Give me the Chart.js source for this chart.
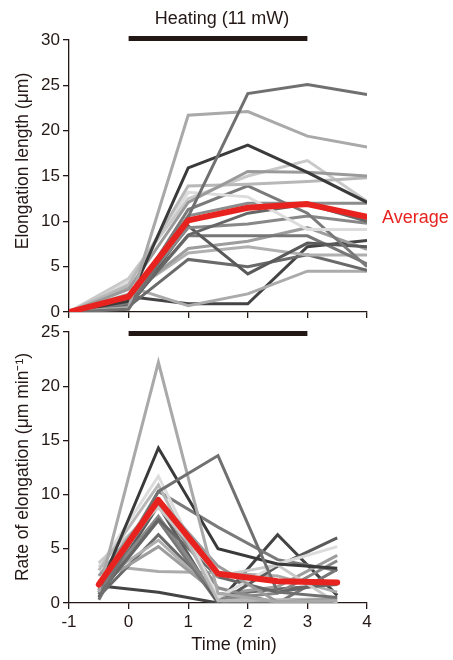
<!DOCTYPE html>
<html><head><meta charset="utf-8">
<script src="https://cdn.jsdelivr.net/npm/chart.js@4.4.1/dist/chart.umd.min.js"></script>
<style>
html,body{margin:0;padding:0;background:#fff;width:453px;height:660px;overflow:hidden}
#c1{position:absolute;left:0;top:0}
#c2{position:absolute;left:0;top:300px}
</style></head><body>
<canvas id="c1" width="453" height="330"></canvas>
<canvas id="c2" width="453" height="360"></canvas>
<script>
// ---------- DATA ----------
const timeLength = [-1, 0, 1, 2, 3, 4];          // min
const timeRate   = [-0.5, 0.5, 1.5, 2.5, 3.5];   // min
const xTicks = [-1, 0, 1, 2, 3, 4];
const lengthTicks = [0, 5, 10, 15, 20, 25, 30];
const rateTicks = [0, 5, 10, 15, 20, 25];
const heatingStart = 0, heatingEnd = 3;
const heatingLabel = "Heating (11 mW)";
const averageLabel = "Average";
const lengthTitle = "Elongation length (μm)";
const rateTitle = "Rate of elongation (μm min⁻¹)";
const timeTitle = "Time (min)";

// elongation length (μm) of individual cells
const length01 = [0, 0.3, 10.5, 24.1, 25.1, 24.0];
const length02 = [0, 0.5, 21.7, 22.1, 19.4, 18.2];
const length03 = [0, 1.2, 15.9, 18.4, 15.4, 12.1];
const length04 = [0, 2.5, 12.1, 15.5, 15.4, 15.0];
const length05 = [0, 3.0, 13.9, 14.1, 14.4, 14.8];
const length06 = [0, 3.7, 12.5, 15.0, 16.7, 12.2];
const length07 = [0, 3.3, 13.2, 12.7, 9.1, 9.1];
const length08 = [0, 1.0, 11.3, 13.9, 10.9, 5.0];
const length09 = [0, 1.5, 10.6, 12.0, 12.0, 12.0];
const length10 = [0, 0.8, 8.5, 10.9, 11.9, 10.0];
const length11 = [0, 1.3, 9.3, 9.7, 10.6, 9.8];
const length12 = [0, 0.5, 9.5, 4.2, 7.6, 7.2];
const length13 = [0, 0.8, 8.4, 8.4, 8.4, 5.3];
const length14 = [0, 1.8, 7.0, 7.8, 9.3, 6.9];
const length15 = [0, 2.0, 6.5, 7.2, 6.3, 6.3];
const length16 = [0, 0.6, 5.8, 5.0, 6.3, 4.6];
const length17 = [0, 2.8, 0.7, 2.0, 4.5, 4.5];
const length18 = [0, 1.7, 0.9, 0.9, 7.2, 7.9];
const lengthAverage = [0, 1.7, 10.1, 11.5, 11.9, 10.5];

// rate of elongation (μm/min) of individual cells
const rate01 = [0.3, 10.3, 13.6, 1.0, 0.5];
const rate02 = [1.0, 22.2, 0.9, 0.1, 0.2];
const rate03 = [1.2, 14.3, 5.0, 3.6, 3.2];
const rate04 = [2.5, 9.6, 3.4, 0.1, 0.4];
const rate05 = [3.0, 10.9, 0.2, 0.3, 0.4];
const rate06 = [3.7, 8.8, 2.5, 3.5, 0.0];
const rate07 = [3.3, 11.7, 0.5, 3.6, 5.2];
const rate08 = [1.0, 10.3, 7.0, 4.0, 3.0];
const rate09 = [1.5, 9.1, 1.4, 0.0, 0.0];
const rate10 = [0.8, 7.7, 2.4, 1.0, 1.9];
const rate11 = [1.3, 8.0, 0.4, 0.9, 3.9];
const rate12 = [0.5, 9.0, 0.0, 3.4, 6.0];
const rate13 = [0.8, 7.6, 0.0, 0.0, 3.1];
const rate14 = [1.8, 5.2, 0.8, 1.5, 4.4];
const rate15 = [2.0, 5.8, 0.7, 0.0, 0.1];
const rate16 = [0.6, 6.3, 0.7, 1.3, 1.7];
const rate17 = [3.5, 2.9, 2.8, 2.5, 1.0];
const rate18 = [1.6, 1.0, 0.0, 6.3, 0.7];
const rateAverage = [1.7, 9.5, 2.7, 2.0, 1.9];

const lengthSeries = [length01,length02,length03,length04,length05,length06,length07,length08,length09,
  length10,length11,length12,length13,length14,length15,length16,length17,length18];
const rateSeries = [rate01,rate02,rate03,rate04,rate05,rate06,rate07,rate08,rate09,
  rate10,rate11,rate12,rate13,rate14,rate15,rate16,rate17,rate18];

// ---------- STYLE ----------
const grays = ['#707070','#a9a9a9','#3a3a3a','#9a9a9a','#b8b8b8','#c9c9c9','#dcdcdc','#7a7a7a','#8c8c8c',
  '#666666','#888888','#5a5a5a','#777777','#9d9d9d','#b0b0b0','#6a6a6a','#ababab','#444444'];
const RED = '#e8231f';
const INK = '#231815';
const FONT = '"Liberation Sans", Arial, Helvetica, sans-serif';

function pts(xs, ys){ return xs.map((x,i)=>({x:x, y:ys[i]})); }

function makeDatasets(xs, series, avg){
  const ds = [{data: pts(xs, avg), borderColor: RED, borderWidth: 6, pointRadius: 0,
    borderCapStyle:'round', borderJoinStyle:'round', order: 0, tension: 0}];
  series.forEach((s,i)=>ds.push({data: pts(xs, s), borderColor: grays[i], borderWidth: 3,
    pointRadius: 0, borderJoinStyle:'miter', borderCapStyle:'butt', order: 1, tension: 0}));
  return ds;
}

function axisX(showLabels, h){
  return {type:'linear', min:-1, max:4,
    afterBuildTicks: s => { s.ticks = xTicks.map(v=>({value:v})); },
    afterFit: s => { s.height = h; },
    border:{display:true, color:INK, width:1.3},
    grid:{display:true, drawOnChartArea:false, drawTicks:true, tickLength:6, color:INK, lineWidth:1.3},
    ticks:{display:showLabels, color:INK, padding:3, font:{family:FONT, size:17}, maxRotation:0}};
}
function axisY(max, tickVals){
  return {type:'linear', min:0, max:max,
    afterBuildTicks: s => { s.ticks = tickVals.map(v=>({value:v})); },
    afterFit: s => { s.width = 69; },
    border:{display:true, color:INK, width:1.3},
    grid:{display:true, drawOnChartArea:false, drawTicks:true, tickLength:6, color:INK, lineWidth:1.3},
    ticks:{color:INK, padding:3, font:{family:FONT, size:17}}};
}

function textPlugin(kind){
  return {id:'txt'+kind, afterDraw(chart){
    const ctx = chart.ctx, xs = chart.scales.x, ys = chart.scales.y, ca = chart.chartArea;
    const x0 = xs.getPixelForValue(heatingStart), x1 = xs.getPixelForValue(heatingEnd);
    ctx.save();
    ctx.fillStyle = INK;
    if (kind === 'top') {
      ctx.fillRect(x0, ca.top - 4, x1 - x0, 5);
      ctx.font = '18px ' + FONT; ctx.textAlign = 'center'; ctx.textBaseline = 'alphabetic';
      ctx.fillText(heatingLabel, (x0 + x1) / 2 + 4, 24);
      ctx.fillStyle = RED; ctx.textAlign = 'left';
      const last = lengthAverage.length - 1;
      ctx.fillText(averageLabel, xs.getPixelForValue(timeLength[last]) + 15,
        ys.getPixelForValue(lengthAverage[last]) + 6);
      ctx.fillStyle = INK;
      ctx.translate(28, 161); ctx.rotate(-Math.PI/2);
      ctx.font = '17.5px ' + FONT; ctx.textAlign = 'center';
      ctx.fillText(lengthTitle, 0, 0);
    } else {
      ctx.fillRect(x0, ca.top - 1, x1 - x0, 5);
      ctx.font = '18px ' + FONT; ctx.textAlign = 'center'; ctx.textBaseline = 'alphabetic';
      ctx.fillText(timeTitle, 234, 350);
      ctx.translate(28, 167); ctx.rotate(-Math.PI/2);
      ctx.font = '17.5px ' + FONT;
      ctx.fillText(rateTitle, 0, 0);
    }
    ctx.restore();
  }};
}

const common = {responsive:false, animation:false, devicePixelRatio:1,
  plugins:{legend:{display:false}, tooltip:{enabled:false}, title:{display:false}}};

new Chart(document.getElementById('c1'), {
  type:'line',
  data:{datasets: makeDatasets(timeLength, lengthSeries, lengthAverage)},
  options:Object.assign({}, common, {
    layout:{padding:{left:0, right:86, top:40, bottom:0}},
    scales:{x: axisX(false, 18), y: axisY(30, lengthTicks)}
  }),
  plugins:[textPlugin('top')]
});

new Chart(document.getElementById('c2'), {
  type:'line',
  data:{datasets: makeDatasets(timeRate, rateSeries, rateAverage)},
  options:Object.assign({}, common, {
    layout:{padding:{left:0, right:86, top:32, bottom:0}},
    scales:{x: axisX(true, 57), y: axisY(25, rateTicks)}
  }),
  plugins:[textPlugin('bot')]
});
</script>
</body></html>
